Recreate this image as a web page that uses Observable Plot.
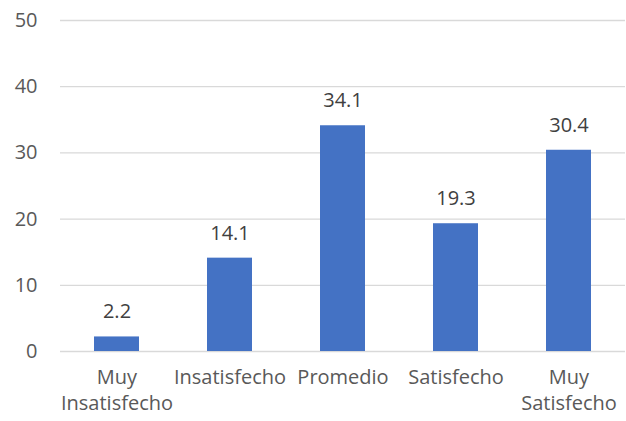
<!DOCTYPE html>
<html><head><meta charset="utf-8">
<script src="https://cdn.jsdelivr.net/npm/d3@7"></script>
<script src="https://cdn.jsdelivr.net/npm/@observablehq/plot@0.6"></script>
<style>body{margin:0;background:#fff}</style>
</head><body><div id="chart"></div>
<script>
const categories = ["Muy Insatisfecho", "Insatisfecho", "Promedio", "Satisfecho", "Muy Satisfecho"];
const tickLabels = ["Muy\nInsatisfecho", "Insatisfecho", "Promedio", "Satisfecho", "Muy\nSatisfecho"];
const values = [2.2, 14.1, 34.1, 19.3, 30.4];
const yTicks = [0, 10, 20, 30, 40, 50];

const data = categories.map((c, i) => ({cat: c, v: values[i]}));
const labelOf = new Map(categories.map((c, i) => [c, tickLabels[i]]));

const chart = Plot.plot({
  width: 626, height: 421,
  marginLeft: 60, marginRight: 1, marginTop: 20, marginBottom: 70,
  style: {fontFamily: "'Open Sans', sans-serif", fontSize: "20px", color: "#595959", background: "#fff"},
  x: {domain: categories, paddingInner: 0.6, paddingOuter: 0.3, label: null},
  y: {domain: [0, 50], label: null},
  marks: [
    Plot.ruleY(yTicks, {stroke: "#d9d9d9", strokeWidth: 1.3, strokeOpacity: 1}),
    Plot.barY(data, {x: "cat", y: "v", fill: "#4472C4"}),
    Plot.text(data, {x: "cat", y: "v", text: d => d.v.toFixed(1), dy: -25, fill: "#404040", fontSize: 20}),
    Plot.axisY(yTicks, {tickSize: 0, tickPadding: 23, fill: "#595959", fontSize: 20}),
    Plot.axisX({tickSize: 0, tickPadding: 14, tickFormat: d => labelOf.get(d), lineHeight: 1.3, fill: "#595959", fontSize: 20})
  ]
});
document.getElementById("chart").appendChild(chart);
</script>
</body></html>
